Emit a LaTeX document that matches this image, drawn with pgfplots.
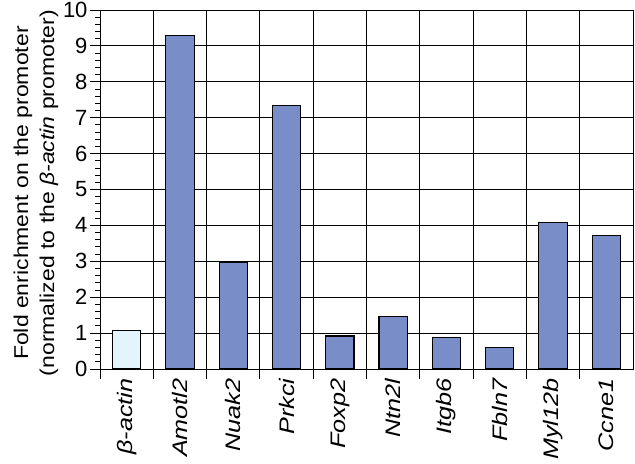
\documentclass[border=0pt]{standalone}
\usepackage{pgfplots}
\pgfplotsset{compat=1.18}
\usepackage{graphicx}
\usepackage{fontspec}
\setmainfont{Liberation Sans}
\definecolor{barblue}{RGB}{121,142,200}
\definecolor{lightblue}{RGB}{228,244,252}
\newcommand{\stx}[1]{\scalebox{1.2}[1]{#1}}
\newcommand{\sty}[1]{\scalebox{1.15}[1]{#1}}
\begin{document}
\begin{tikzpicture}
\begin{axis}[
  scale only axis, width=533bp, height=359bp,
  xmin=-0.5, xmax=9.5, ymin=0, ymax=10,
  /pgf/number format/assume math mode=true,
  axis line style={black, line width=1pt},
  ytick={0,1,...,10}, minor y tick num=4,
  ytick pos=left, xtick pos=bottom,
  ymajorgrids, xmajorgrids,
  major grid style={black, line width=0.9pt},
  tick align=outside, tick style={black, line width=0.9pt},
  major tick length=10bp, minor tick length=5bp,
  y tick label style={font=\fontsize{22bp}{24bp}\selectfont, xshift=1bp},
  xtick={-0.5,0.5,...,8.5}, xticklabels={},
  extra x ticks={0,1,2,3,4,5,6,7,8,9},
  extra x tick labels={\stx{β-actin},\stx{Amotl2},\stx{Nuak2},\stx{Prkci},\stx{Foxp2},\stx{Ntn2l},\stx{Itgb6},\stx{Fbln7},\stx{Myl12b},\stx{Ccne1}},
  extra x tick style={grid=none, major tick length=0pt,
    tick label style={rotate=90, anchor=east, xshift=-6bp,
      font=\fontsize{21bp}{22bp}\selectfont\itshape}},
  ylabel={\sty{Fold enrichment on the promoter}\\\sty{(normalized to the \textit{β-actin} promoter)}},
  ylabel style={align=center, font=\fontsize{20bp}{26bp}\selectfont,
    at={(axis description cs:0,0.49)}, anchor=center, xshift=0bp, yshift=64bp},
  ybar, bar width=0.53, bar shift=0pt,
]
\addplot[draw=black, line width=1.1pt, fill=lightblue] coordinates {(0,1.06)};
\addplot[draw=black, line width=1.1pt, fill=barblue] coordinates {
  (1,9.30) (2,2.96) (3,7.34) (4,0.92) (5,1.46) (6,0.87) (7,0.59) (8,4.07) (9,3.71)};
\end{axis}
\pgfresetboundingbox
\path ([shift={(-100bp,-95bp)}]current axis.south west) rectangle ([shift={(2bp,10bp)}]current axis.north east);
\end{tikzpicture}
\end{document}
